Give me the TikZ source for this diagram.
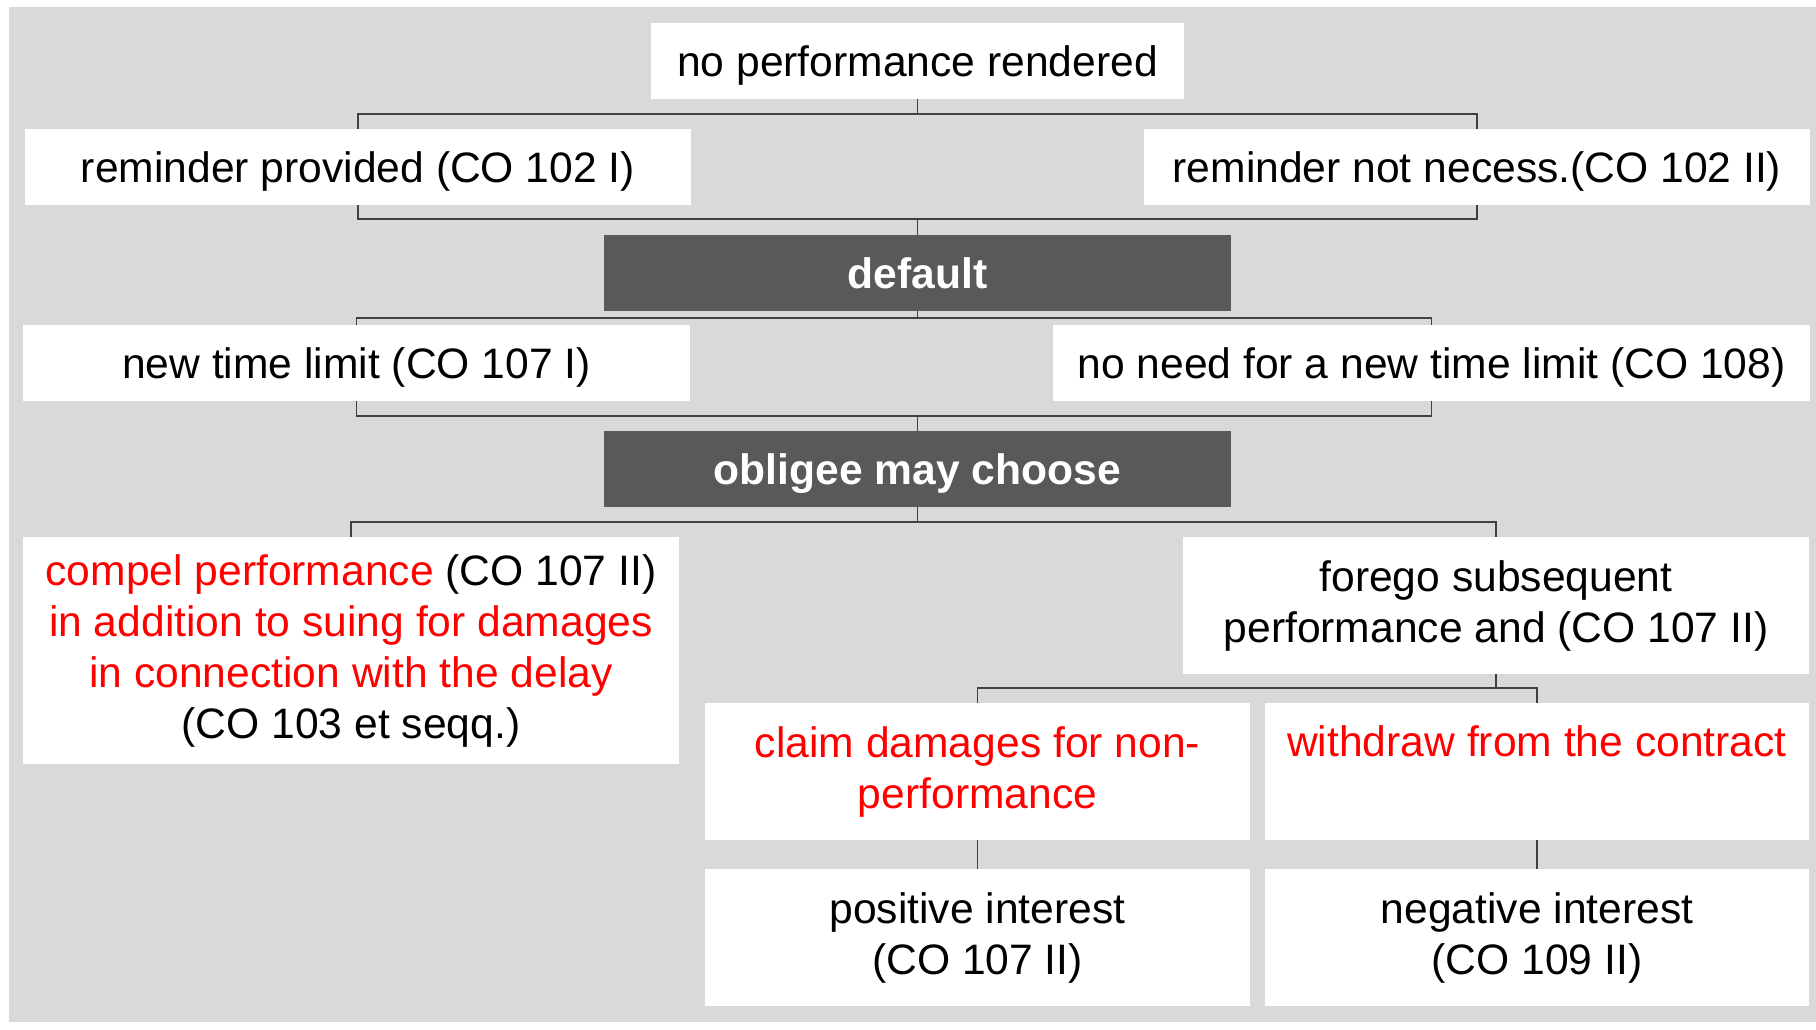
\documentclass[tikz,border=0pt]{standalone}
\usepackage{fontspec}
\setmainfont{Liberation Sans}
\usetikzlibrary{positioning}
\definecolor{panelgray}{HTML}{D9D9D9}
\definecolor{boxdark}{HTML}{595959}
\definecolor{linegray}{HTML}{404040}
\tikzset{plain box/.style={fill=white, rectangle, inner sep=0pt, align=center, font=\fontsize{21.3pt}{25.5pt}\selectfont, minimum height=38pt}}
\tikzset{one line/.style={plain box, text depth=0pt}}
\tikzset{dark box/.style={one line, fill=boxdark, text=white, font=\fontsize{21.3pt}{25.5pt}\selectfont\bfseries, minimum width=313.5pt}}
\tikzset{tall box/.style={plain box, minimum width=272.5pt, minimum height=68.5pt}}
\tikzset{tree line/.style={draw=linegray, line width=0.7pt}}

\begin{document}
\begin{tikzpicture}[x=0.5pt, y=-0.5pt]
\useasboundingbox (0,0) rectangle (1816,1029);
\fill[panelgray] (9,7) rectangle (1816,1022);
% first levels
\node[one line, minimum width=266.5pt] (root) at (917.5,61) {no performance rendered};
\node[one line, minimum width=333pt] (remind) at (358,167) {reminder provided (CO 102 I)};
\node[one line, minimum width=333pt] (nonec) at (1477,167) {reminder not necess.(CO 102 II)};
\node[dark box] (default) at (917.5,273) {default};
\node[one line, minimum width=333.5pt] (newlim) at (356.5,363) {new time limit (CO 107 I)};
\node[one line, minimum width=378.5pt] (noneed) at (1431.5,363) {no need for a new time limit (CO 108)};
\node[dark box] (choose) at (917.5,469) {obligee may choose};
% choices
\node[plain box, minimum width=328pt, minimum height=113.5pt] (compel) at (351,650.5)
  {\textcolor{red}{compel performance} (CO 107 II)\\
   \textcolor{red}{in addition to suing for damages}\\
   \textcolor{red}{in connection with the delay}\\
   (CO 103 et seqq.)};
\node[plain box, minimum width=313pt, minimum height=68.5pt] (forego) at (1496,605.5)
  {forego subsequent\\ performance and (CO 107 II)};
\node[tall box] (claim) at (977.5,771.5) {\textcolor{red}{claim damages for non-}\\ \textcolor{red}{performance}};
\node[tall box, minimum width=272pt] (withdraw) at (1537,771.5) {\textcolor{red}{withdraw from the contract}\\[5pt] \mbox{}};
\node[tall box] (positive) at (977.5,937.5) {positive interest\\ (CO 107 II)};
\node[tall box, minimum width=272pt] (negative) at (1537,937.5) {negative interest\\ (CO 109 II)};
% junctions
\coordinate (bar1) at (917.5,114);
\coordinate (bar2) at (917.5,219);
\coordinate (bar3) at (917.5,318);
\coordinate (bar4) at (917.5,416);
\coordinate (bar5) at (917.5,522);
\coordinate (bar6) at (1496,688);
\draw[tree line] (root.south) -- (bar1);
\draw[tree line] (remind.north) |- (bar1) -| (nonec.north);
\draw[tree line] (remind.south) |- (bar2) -| (nonec.south);
\draw[tree line] (bar2) -- (default.north);
\draw[tree line] (default.south) -- (bar3);
\draw[tree line] (newlim.north) |- (bar3) -| (noneed.north);
\draw[tree line] (newlim.south) |- (bar4) -| (noneed.south);
\draw[tree line] (bar4) -- (choose.north);
\draw[tree line] (choose.south) -- (bar5);
\draw[tree line] (compel.north) |- (bar5) -| (forego.north);
\draw[tree line] (forego.south) -- (bar6);
\draw[tree line] (claim.north) |- (bar6) -| (withdraw.north);
\draw[tree line] (claim.south) -- (positive.north);
\draw[tree line] (withdraw.south) -- (negative.north);
\end{tikzpicture}
\end{document}
